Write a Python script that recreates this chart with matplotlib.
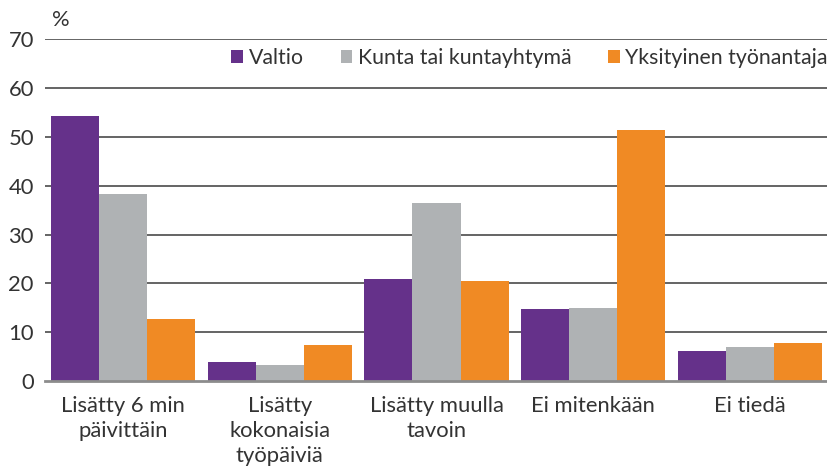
import matplotlib
matplotlib.use("Agg")
import matplotlib.pyplot as plt
import numpy as np

categories = ["Lisätty 6 min\npäivittäin", "Lisätty\nkokonaisia\ntyöpäiviä",
              "Lisätty muulla\ntavoin", "Ei mitenkään", "Ei tiedä"]
series_names = ["Valtio", "Kunta tai kuntayhtymä", "Yksityinen työnantaja"]
valtio = [54.3, 3.9, 20.9, 14.7, 6.1]
kunta = [38.3, 3.3, 36.5, 15.0, 7.0]
yksityinen = [12.7, 7.4, 20.5, 51.4, 7.8]
colors = ["#65318A", "#AFB2B4", "#F08A24"]
yticks = [0, 10, 20, 30, 40, 50, 60, 70]

plt.rcParams['font.family'] = ['Lato', 'DejaVu Sans']
fs = 15.8
fig = plt.figure(figsize=(8.28, 4.67), dpi=100)
ax = fig.add_axes([0.0543, 0.184, 0.9457, 0.732])

x = np.arange(len(categories))
w = 0.307
for i, (vals, name) in enumerate(zip([valtio, kunta, yksityinen], series_names)):
    ax.bar(x + (i - 1) * w, vals, width=w, color=colors[i], label=name, zorder=3)

ax.set_xlim(-0.5, len(categories) - 0.5)
ax.set_ylim(0, 70)
ax.set_yticks(yticks)
ax.set_xticks(x)
ax.set_xticklabels(categories, fontsize=fs, color="#333333", linespacing=1.3)
ax.tick_params(axis='y', labelsize=fs, colors="#333333", length=0, pad=8)
ax.tick_params(axis='x', length=0, pad=11)
for yv in yticks[1:]:
    ax.axhline(yv, color="#3a3a3a", linewidth=1.1, zorder=1)
for s in ['top', 'right', 'left']:
    ax.spines[s].set_visible(False)
ax.spines['bottom'].set_color("#8c8c8c")
ax.spines['bottom'].set_linewidth(2)
ax.spines['bottom'].set_zorder(4)

leg = ax.legend(loc='upper right', bbox_to_anchor=(1.0, 0.975), ncol=3, frameon=False,
                fontsize=15.3, handlelength=0.55, handleheight=0.55, handletextpad=0.25,
                columnspacing=1.75, borderaxespad=0.0, borderpad=0.0)
for t in leg.get_texts():
    t.set_color("#333333")

fig.text(52 / 828, 1 - 20 / 467, "%", fontsize=fs, color="#333333", va='center', ha='left')

fig.savefig("out.png", dpi=100)
